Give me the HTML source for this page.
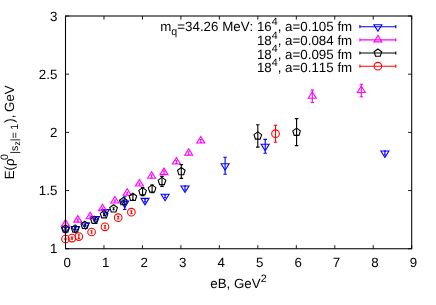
<!DOCTYPE html>
<html><head><meta charset="utf-8"><title>plot</title>
<style>
html,body{margin:0;padding:0;background:#fff;}
body{width:436px;height:305px;overflow:hidden;}
svg{display:block;will-change:transform;}
text{text-rendering:geometricPrecision;font-kerning:none;font-family:"Liberation Sans",sans-serif;font-size:13.33px;fill:#000;}
.s{font-size:10.67px;}
.ss{font-size:8.5px;}
</style></head><body>
<svg width="436" height="305" viewBox="0 0 436 305">
<rect width="436" height="305" fill="#fff"/>
<path d="M65.50 248.75v-3.6M65.50 16.0v3.6M103.97 248.75v-3.6M103.97 16.0v3.6M142.43 248.75v-3.6M142.43 16.0v3.6M180.90 248.75v-3.6M180.90 16.0v3.6M219.37 248.75v-3.6M219.37 16.0v3.6M257.83 248.75v-3.6M257.83 16.0v3.6M296.30 248.75v-3.6M296.30 16.0v3.6M334.77 248.75v-3.6M334.77 16.0v3.6M373.23 248.75v-3.6M373.23 16.0v3.6M411.70 248.75v-3.6M411.70 16.0v3.6M65.5 248.75h3.6M411.7 248.75h-3.6M65.5 190.56h3.6M411.7 190.56h-3.6M65.5 132.38h3.6M411.7 132.38h-3.6M65.5 74.19h3.6M411.7 74.19h-3.6M65.5 16.00h3.6M411.7 16.00h-3.6" stroke="#000" stroke-width="0.9" fill="none"/>
<text x="67.30" y="266.9" text-anchor="middle">0</text>
<text x="105.77" y="266.9" text-anchor="middle">1</text>
<text x="144.23" y="266.9" text-anchor="middle">2</text>
<text x="182.70" y="266.9" text-anchor="middle">3</text>
<text x="221.17" y="266.9" text-anchor="middle">4</text>
<text x="259.63" y="266.9" text-anchor="middle">5</text>
<text x="298.10" y="266.9" text-anchor="middle">6</text>
<text x="336.57" y="266.9" text-anchor="middle">7</text>
<text x="375.03" y="266.9" text-anchor="middle">8</text>
<text x="413.50" y="266.9" text-anchor="middle">9</text>
<text x="57.4" y="253.45" text-anchor="end">1</text>
<text x="57.4" y="195.26" text-anchor="end">1.5</text>
<text x="57.4" y="137.07" text-anchor="end">2</text>
<text x="57.4" y="78.89" text-anchor="end">2.5</text>
<text x="57.4" y="20.70" text-anchor="end">3</text>
<text x="210.3" y="288">eB, GeV<tspan class="s" dy="-6.4">2</tspan></text>
<g transform="translate(14.3,179.3) rotate(-90)"><text x="0" y="0">E(ρ</text><text class="s" x="19.4" y="-6.2">0</text><text class="s" x="25.6" y="3.5">|s<tspan class="ss" dy="2.6">z</tspan><tspan dy="-2.6">|=</tspan><tspan dx="2.6">1</tspan></text><text x="56.5" y="0">),</text><text x="67.4" y="0">GeV</text></g>
<text x="352.2" y="30.90" text-anchor="end"><tspan>m</tspan><tspan class="s" dy="3.9">q</tspan><tspan dy="-3.9">=34.26 MeV: 16</tspan><tspan class="s" dy="-6.4">4</tspan><tspan dy="6.4">, a=0.105 fm</tspan></text>
<path d="M359.9 26.7H395.8M359.9 25.099999999999998v3.2M395.8 25.099999999999998v3.2" stroke="#00f" stroke-width="1.1" fill="none"/>
<path d="M377.90 31.18L373.90 24.70H381.90Z" stroke="#00f" stroke-width="1.1" fill="none"/>
<text x="352.2" y="45.20" text-anchor="end">18<tspan class="s" dy="-6.4">4</tspan><tspan dy="6.4">, a=0.084 fm</tspan></text>
<path d="M359.9 39.9H395.8M359.9 38.3v3.2M395.8 38.3v3.2" stroke="#f0f" stroke-width="1.1" fill="none"/>
<path d="M377.90 35.42L373.90 41.90H381.90Z" stroke="#f0f" stroke-width="1.1" fill="none"/>
<text x="352.2" y="58.60" text-anchor="end">18<tspan class="s" dy="-6.4">4</tspan><tspan dy="6.4">, a=0.095 fm</tspan></text>
<path d="M359.9 53.0H395.8M359.9 51.4v3.2M395.8 51.4v3.2" stroke="#000" stroke-width="1.1" fill="none"/>
<path d="M377.90 49.00L381.70 51.76L380.25 56.24L375.55 56.24L374.10 51.76Z" stroke="#000" stroke-width="1.1" fill="none"/>
<text x="352.2" y="72.10" text-anchor="end">18<tspan class="s" dy="-6.4">4</tspan><tspan dy="6.4">, a=0.115 fm</tspan></text>
<path d="M359.9 66.2H395.8M359.9 64.60000000000001v3.2M395.8 64.60000000000001v3.2" stroke="#f00" stroke-width="1.1" fill="none"/>
<circle cx="377.90" cy="66.20" r="3.80" stroke="#f00" stroke-width="1.1" fill="none"/>
<path d="M65.50 228.30V230.30M64.40 228.30h2.2M64.40 230.30h2.2" stroke="#00f" stroke-width="1.1" fill="none"/>
<path d="M65.50 233.78L61.50 227.30H69.50Z" stroke="#00f" stroke-width="1.1" fill="none"/>
<path d="M75.50 227.50V229.50M74.40 227.50h2.2M74.40 229.50h2.2" stroke="#00f" stroke-width="1.1" fill="none"/>
<path d="M75.50 232.98L71.50 226.50H79.50Z" stroke="#00f" stroke-width="1.1" fill="none"/>
<path d="M85.50 223.70V225.70M84.40 223.70h2.2M84.40 225.70h2.2" stroke="#00f" stroke-width="1.1" fill="none"/>
<path d="M85.50 229.18L81.50 222.70H89.50Z" stroke="#00f" stroke-width="1.1" fill="none"/>
<path d="M95.50 217.60V219.60M94.40 217.60h2.2M94.40 219.60h2.2" stroke="#00f" stroke-width="1.1" fill="none"/>
<path d="M95.50 223.08L91.50 216.60H99.50Z" stroke="#00f" stroke-width="1.1" fill="none"/>
<path d="M105.30 210.60V212.60M104.20 210.60h2.2M104.20 212.60h2.2" stroke="#00f" stroke-width="1.1" fill="none"/>
<path d="M105.30 216.08L101.30 209.60H109.30Z" stroke="#00f" stroke-width="1.1" fill="none"/>
<path d="M124.70 196.70V209.50M122.95 196.70h3.5M122.95 209.50h3.5" stroke="#00f" stroke-width="1.1" fill="none"/>
<path d="M124.70 207.58L120.70 201.10H128.70Z" stroke="#00f" stroke-width="1.1" fill="none"/>
<path d="M145.00 198.90V201.90M143.90 198.90h2.2M143.90 201.90h2.2" stroke="#00f" stroke-width="1.1" fill="none"/>
<path d="M145.00 204.88L141.00 198.40H149.00Z" stroke="#00f" stroke-width="1.1" fill="none"/>
<path d="M165.10 194.70V197.70M164.00 194.70h2.2M164.00 197.70h2.2" stroke="#00f" stroke-width="1.1" fill="none"/>
<path d="M165.10 200.68L161.10 194.20H169.10Z" stroke="#00f" stroke-width="1.1" fill="none"/>
<path d="M185.00 186.00V190.00M183.90 186.00h2.2M183.90 190.00h2.2" stroke="#00f" stroke-width="1.1" fill="none"/>
<path d="M185.00 192.48L181.00 186.00H189.00Z" stroke="#00f" stroke-width="1.1" fill="none"/>
<path d="M225.10 157.30V174.30M223.35 157.30h3.5M223.35 174.30h3.5" stroke="#00f" stroke-width="1.1" fill="none"/>
<path d="M225.10 170.28L221.10 163.80H229.10Z" stroke="#00f" stroke-width="1.1" fill="none"/>
<path d="M265.20 139.40V153.20M263.45 139.40h3.5M263.45 153.20h3.5" stroke="#00f" stroke-width="1.1" fill="none"/>
<path d="M265.20 150.78L261.20 144.30H269.20Z" stroke="#00f" stroke-width="1.1" fill="none"/>
<path d="M384.90 151.00V155.00M383.80 151.00h2.2M383.80 155.00h2.2" stroke="#00f" stroke-width="1.1" fill="none"/>
<path d="M384.90 157.48L380.90 151.00H388.90Z" stroke="#00f" stroke-width="1.1" fill="none"/>
<path d="M65.50 223.10V225.10M64.40 223.10h2.2M64.40 225.10h2.2" stroke="#f0f" stroke-width="1.1" fill="none"/>
<path d="M65.50 219.62L61.50 226.10H69.50Z" stroke="#f0f" stroke-width="1.1" fill="none"/>
<path d="M77.85 219.10V221.10M76.75 219.10h2.2M76.75 221.10h2.2" stroke="#f0f" stroke-width="1.1" fill="none"/>
<path d="M77.85 215.62L73.85 222.10H81.85Z" stroke="#f0f" stroke-width="1.1" fill="none"/>
<path d="M90.20 215.80V217.80M89.10 215.80h2.2M89.10 217.80h2.2" stroke="#f0f" stroke-width="1.1" fill="none"/>
<path d="M90.20 212.32L86.20 218.80H94.20Z" stroke="#f0f" stroke-width="1.1" fill="none"/>
<path d="M102.50 207.80V209.80M101.40 207.80h2.2M101.40 209.80h2.2" stroke="#f0f" stroke-width="1.1" fill="none"/>
<path d="M102.50 204.32L98.50 210.80H106.50Z" stroke="#f0f" stroke-width="1.1" fill="none"/>
<path d="M114.90 200.00V202.00M113.80 200.00h2.2M113.80 202.00h2.2" stroke="#f0f" stroke-width="1.1" fill="none"/>
<path d="M114.90 196.52L110.90 203.00H118.90Z" stroke="#f0f" stroke-width="1.1" fill="none"/>
<path d="M127.20 192.20V194.20M126.10 192.20h2.2M126.10 194.20h2.2" stroke="#f0f" stroke-width="1.1" fill="none"/>
<path d="M127.20 188.72L123.20 195.20H131.20Z" stroke="#f0f" stroke-width="1.1" fill="none"/>
<path d="M139.40 183.00V185.00M138.30 183.00h2.2M138.30 185.00h2.2" stroke="#f0f" stroke-width="1.1" fill="none"/>
<path d="M139.40 179.52L135.40 186.00H143.40Z" stroke="#f0f" stroke-width="1.1" fill="none"/>
<path d="M151.60 174.80V177.80M150.50 174.80h2.2M150.50 177.80h2.2" stroke="#f0f" stroke-width="1.1" fill="none"/>
<path d="M151.60 171.82L147.60 178.30H155.60Z" stroke="#f0f" stroke-width="1.1" fill="none"/>
<path d="M164.00 171.10V174.10M162.90 171.10h2.2M162.90 174.10h2.2" stroke="#f0f" stroke-width="1.1" fill="none"/>
<path d="M164.00 168.12L160.00 174.60H168.00Z" stroke="#f0f" stroke-width="1.1" fill="none"/>
<path d="M176.40 160.50V163.50M175.30 160.50h2.2M175.30 163.50h2.2" stroke="#f0f" stroke-width="1.1" fill="none"/>
<path d="M176.40 157.52L172.40 164.00H180.40Z" stroke="#f0f" stroke-width="1.1" fill="none"/>
<path d="M188.70 151.70V154.70M187.60 151.70h2.2M187.60 154.70h2.2" stroke="#f0f" stroke-width="1.1" fill="none"/>
<path d="M188.70 148.72L184.70 155.20H192.70Z" stroke="#f0f" stroke-width="1.1" fill="none"/>
<path d="M200.80 139.50V142.50M199.70 139.50h2.2M199.70 142.50h2.2" stroke="#f0f" stroke-width="1.1" fill="none"/>
<path d="M200.80 136.52L196.80 143.00H204.80Z" stroke="#f0f" stroke-width="1.1" fill="none"/>
<path d="M312.30 90.10V102.50M310.55 90.10h3.5M310.55 102.50h3.5" stroke="#f0f" stroke-width="1.1" fill="none"/>
<path d="M312.30 91.82L308.30 98.30H316.30Z" stroke="#f0f" stroke-width="1.1" fill="none"/>
<path d="M361.30 84.30V96.70M359.55 84.30h3.5M359.55 96.70h3.5" stroke="#f0f" stroke-width="1.1" fill="none"/>
<path d="M361.30 86.02L357.30 92.50H365.30Z" stroke="#f0f" stroke-width="1.1" fill="none"/>
<path d="M65.50 227.90V229.90M64.40 227.90h2.2M64.40 229.90h2.2" stroke="#000" stroke-width="1.1" fill="none"/>
<path d="M65.50 224.90L69.30 227.66L67.85 232.14L63.15 232.14L61.70 227.66Z" stroke="#000" stroke-width="1.1" fill="none"/>
<path d="M75.15 227.90V229.90M74.05 227.90h2.2M74.05 229.90h2.2" stroke="#000" stroke-width="1.1" fill="none"/>
<path d="M75.15 224.90L78.95 227.66L77.50 232.14L72.80 232.14L71.35 227.66Z" stroke="#000" stroke-width="1.1" fill="none"/>
<path d="M84.80 224.30V226.30M83.70 224.30h2.2M83.70 226.30h2.2" stroke="#000" stroke-width="1.1" fill="none"/>
<path d="M84.80 221.30L88.60 224.06L87.15 228.54L82.45 228.54L81.00 224.06Z" stroke="#000" stroke-width="1.1" fill="none"/>
<path d="M94.50 219.10V221.10M93.40 219.10h2.2M93.40 221.10h2.2" stroke="#000" stroke-width="1.1" fill="none"/>
<path d="M94.50 216.10L98.30 218.86L96.85 223.34L92.15 223.34L90.70 218.86Z" stroke="#000" stroke-width="1.1" fill="none"/>
<path d="M104.10 213.60V215.60M103.00 213.60h2.2M103.00 215.60h2.2" stroke="#000" stroke-width="1.1" fill="none"/>
<path d="M104.10 210.60L107.90 213.36L106.45 217.84L101.75 217.84L100.30 213.36Z" stroke="#000" stroke-width="1.1" fill="none"/>
<path d="M113.60 207.80V209.80M112.50 207.80h2.2M112.50 209.80h2.2" stroke="#000" stroke-width="1.1" fill="none"/>
<path d="M113.60 204.80L117.40 207.56L115.95 212.04L111.25 212.04L109.80 207.56Z" stroke="#000" stroke-width="1.1" fill="none"/>
<path d="M123.30 200.00V203.00M122.20 200.00h2.2M122.20 203.00h2.2" stroke="#000" stroke-width="1.1" fill="none"/>
<path d="M123.30 197.50L127.10 200.26L125.65 204.74L120.95 204.74L119.50 200.26Z" stroke="#000" stroke-width="1.1" fill="none"/>
<path d="M132.90 194.70V199.70M131.80 194.70h2.2M131.80 199.70h2.2" stroke="#000" stroke-width="1.1" fill="none"/>
<path d="M132.90 193.20L136.70 195.96L135.25 200.44L130.55 200.44L129.10 195.96Z" stroke="#000" stroke-width="1.1" fill="none"/>
<path d="M142.60 187.60V195.60M140.85 187.60h3.5M140.85 195.60h3.5" stroke="#000" stroke-width="1.1" fill="none"/>
<path d="M142.60 187.60L146.40 190.36L144.95 194.84L140.25 194.84L138.80 190.36Z" stroke="#000" stroke-width="1.1" fill="none"/>
<path d="M152.10 185.10V192.70M150.35 185.10h3.5M150.35 192.70h3.5" stroke="#000" stroke-width="1.1" fill="none"/>
<path d="M152.10 184.90L155.90 187.66L154.45 192.14L149.75 192.14L148.30 187.66Z" stroke="#000" stroke-width="1.1" fill="none"/>
<path d="M162.00 176.40V186.40M160.25 176.40h3.5M160.25 186.40h3.5" stroke="#000" stroke-width="1.1" fill="none"/>
<path d="M162.00 177.40L165.80 180.16L164.35 184.64L159.65 184.64L158.20 180.16Z" stroke="#000" stroke-width="1.1" fill="none"/>
<path d="M181.30 164.60V178.40M179.55 164.60h3.5M179.55 178.40h3.5" stroke="#000" stroke-width="1.1" fill="none"/>
<path d="M181.30 167.50L185.10 170.26L183.65 174.74L178.95 174.74L177.50 170.26Z" stroke="#000" stroke-width="1.1" fill="none"/>
<path d="M257.80 124.70V147.10M256.05 124.70h3.5M256.05 147.10h3.5" stroke="#000" stroke-width="1.1" fill="none"/>
<path d="M257.80 131.90L261.60 134.66L260.15 139.14L255.45 139.14L254.00 134.66Z" stroke="#000" stroke-width="1.1" fill="none"/>
<path d="M296.60 118.60V145.60M294.85 118.60h3.5M294.85 145.60h3.5" stroke="#000" stroke-width="1.1" fill="none"/>
<path d="M296.60 128.10L300.40 130.86L298.95 135.34L294.25 135.34L292.80 130.86Z" stroke="#000" stroke-width="1.1" fill="none"/>
<path d="M65.50 238.40V239.60M64.40 238.40h2.2M64.40 239.60h2.2" stroke="#f00" stroke-width="1.1" fill="none"/>
<circle cx="65.50" cy="239.00" r="3.80" stroke="#f00" stroke-width="1.1" fill="none"/>
<path d="M72.00 237.10V239.10M70.90 237.10h2.2M70.90 239.10h2.2" stroke="#f00" stroke-width="1.1" fill="none"/>
<circle cx="72.00" cy="238.10" r="3.80" stroke="#f00" stroke-width="1.1" fill="none"/>
<path d="M78.80 234.80V238.40M77.70 234.80h2.2M77.70 238.40h2.2" stroke="#f00" stroke-width="1.1" fill="none"/>
<circle cx="78.80" cy="236.60" r="3.80" stroke="#f00" stroke-width="1.1" fill="none"/>
<path d="M91.60 230.70V233.30M90.50 230.70h2.2M90.50 233.30h2.2" stroke="#f00" stroke-width="1.1" fill="none"/>
<circle cx="91.60" cy="232.00" r="3.80" stroke="#f00" stroke-width="1.1" fill="none"/>
<path d="M105.00 225.50V228.10M103.90 225.50h2.2M103.90 228.10h2.2" stroke="#f00" stroke-width="1.1" fill="none"/>
<circle cx="105.00" cy="226.80" r="3.80" stroke="#f00" stroke-width="1.1" fill="none"/>
<path d="M118.20 216.40V219.00M117.10 216.40h2.2M117.10 219.00h2.2" stroke="#f00" stroke-width="1.1" fill="none"/>
<circle cx="118.20" cy="217.70" r="3.80" stroke="#f00" stroke-width="1.1" fill="none"/>
<path d="M131.40 210.90V213.50M130.30 210.90h2.2M130.30 213.50h2.2" stroke="#f00" stroke-width="1.1" fill="none"/>
<circle cx="131.40" cy="212.20" r="3.80" stroke="#f00" stroke-width="1.1" fill="none"/>
<path d="M275.50 125.20V142.20M273.75 125.20h3.5M273.75 142.20h3.5" stroke="#f00" stroke-width="1.1" fill="none"/>
<circle cx="275.50" cy="133.70" r="3.80" stroke="#f00" stroke-width="1.1" fill="none"/>
<rect x="65.5" y="16.0" width="346.20" height="232.75" fill="none" stroke="#000" stroke-width="1.05"/>
</svg></body></html>
